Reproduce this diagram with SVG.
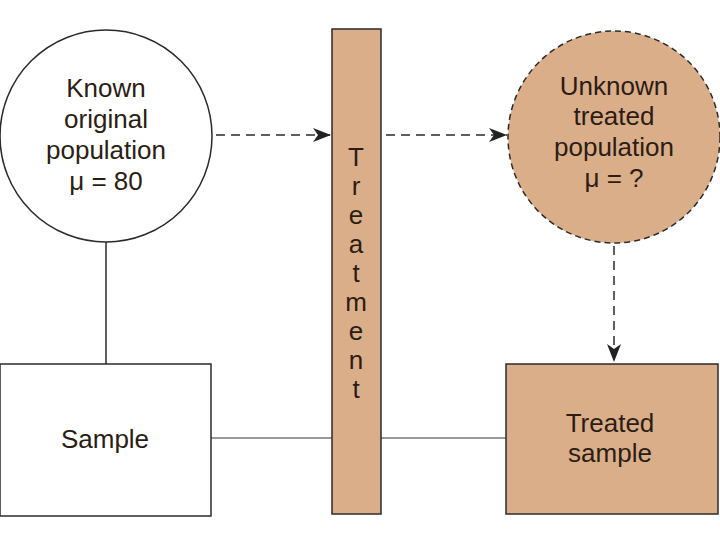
<svg xmlns="http://www.w3.org/2000/svg" width="720" height="540" viewBox="0 0 720 540">
<defs>
<style>
text{font-family:"Liberation Sans",Arial,sans-serif;font-size:26px;fill:#2b1d14;text-anchor:middle}
.tan{fill:#dbae8a;stroke:#2b2b2b;stroke-width:1.5}
.plain{fill:#fff;stroke:#2b2b2b;stroke-width:1.5}
.dash{stroke:#2b2b2b;stroke-width:1.5;stroke-dasharray:9 6;fill:none}
.solid{stroke:#2b2b2b;stroke-width:1.5;fill:none}
.gray{stroke:#777;stroke-width:1.5;fill:none}
</style>
<marker id="ah" viewBox="0 0 18 14" refX="18" refY="7" markerWidth="18" markerHeight="14" markerUnits="userSpaceOnUse" orient="auto">
<path d="M0,0 L18,7 L0,14 L5,7 Z" fill="#222"/>
</marker>
</defs>
<g id="connectors">
<line class="solid" x1="106" y1="242" x2="106" y2="364"/>
<line class="gray" x1="211" y1="438" x2="332" y2="438"/>
<line class="gray" x1="381" y1="438" x2="506" y2="438"/>
<line class="dash" x1="216" y1="135" x2="331" y2="135" marker-end="url(#ah)"/>
<line class="dash" x1="386" y1="135" x2="507" y2="135" marker-end="url(#ah)"/>
<line class="dash" x1="614" y1="246" x2="614" y2="362" marker-end="url(#ah)"/>
</g>
<g id="known">
<circle class="plain" cx="106" cy="136" r="106"/>
<text x="106" y="97">Known</text>
<text x="106" y="128">original</text>
<text x="106" y="159">population</text>
<text x="106" y="190">μ = 80</text>
</g>
<g id="treatment">
<rect class="tan" x="332" y="29" width="49" height="485"/>
<text x="356" y="166" font-size="24">T</text>
<text x="356" y="195" font-size="24">r</text>
<text x="356" y="224" font-size="24">e</text>
<text x="356" y="253" font-size="24">a</text>
<text x="356" y="282" font-size="24">t</text>
<text x="356" y="311" font-size="24">m</text>
<text x="356" y="340" font-size="24">e</text>
<text x="356" y="369" font-size="24">n</text>
<text x="356" y="398" font-size="24">t</text>
</g>
<g id="unknown">
<circle class="tan" cx="614" cy="137" r="106" stroke-dasharray="6 4"/>
<text x="614" y="95">Unknown</text>
<text x="614" y="125">treated</text>
<text x="614" y="156">population</text>
<text x="614" y="187">μ = ?</text>
</g>
<g id="sample">
<rect class="plain" x="0" y="364" width="211" height="152"/>
<text x="105" y="448">Sample</text>
</g>
<g id="treated-sample">
<rect class="tan" x="506" y="364" width="212" height="150"/>
<text x="610" y="432">Treated</text>
<text x="610" y="462">sample</text>
</g>
</svg>
